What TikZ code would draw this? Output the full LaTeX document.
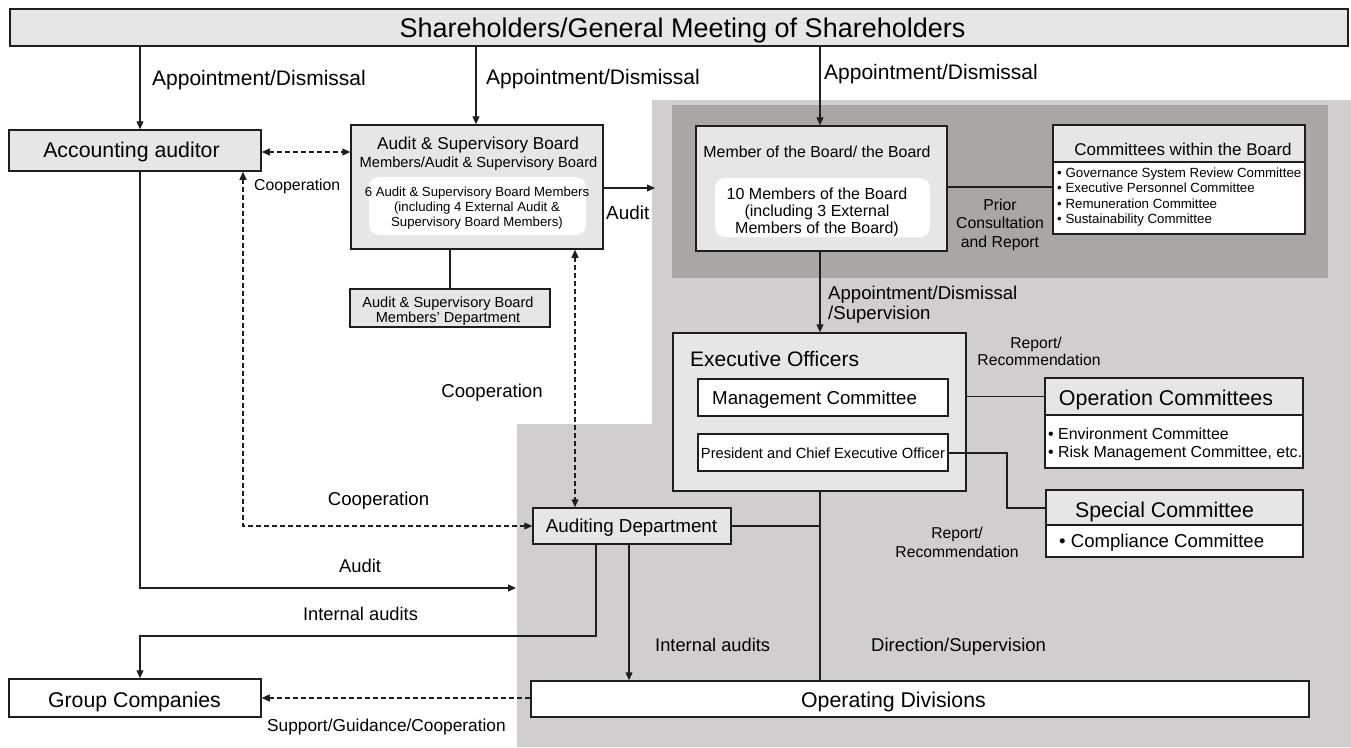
\documentclass[tikz,border=0pt]{standalone}
\usepackage{fontspec}
\setmainfont{Liberation Sans}
\usetikzlibrary{arrows.meta}
\definecolor{boxgray}{HTML}{E6E6E6}
\definecolor{reglight}{HTML}{D0CECF}
\definecolor{regdark}{HTML}{AAA6A5}
\definecolor{edge}{HTML}{1E1E1E}
\newcommand\fs[1]{\fontsize{#1}{#1}\selectfont}
\begin{document}
\begin{tikzpicture}[x=1pt,y=-1pt,
  gbox/.style={draw=edge, line width=1.5pt, fill=boxgray, inner sep=0pt},
  wbox/.style={draw=edge, line width=1.5pt, fill=white, inner sep=0pt},
  wround/.style={fill=white, rounded corners=10pt, inner sep=0pt},
  conn/.style={draw=edge, line width=1.2pt},
  arr/.style={conn, -{Triangle[length=8pt,width=7pt]}},
  darr/.style={conn, dash pattern=on 5pt off 3pt, {Triangle[length=8pt,width=7pt]}-{Triangle[length=8pt,width=7pt]}},
  dar/.style={conn, dash pattern=on 5pt off 3pt, -{Triangle[length=8pt,width=7pt]}},
  t/.style={inner sep=0pt, anchor=base, text=black},
  tl/.style={inner sep=0pt, anchor=base west, text=black}]
\useasboundingbox (0,0) rectangle (1351,747);
\fill[white] (0,0) rectangle (1351,747);
% background regions
\fill[reglight] (652,100) -- (1351,100) -- (1351,747) -- (517,747) -- (517,424) -- (652,424) -- cycle;
\fill[regdark] (672,105) rectangle (1328,278);
% column / level coordinates
\coordinate (xA) at (140,0);
\coordinate (xB) at (476,0);
\coordinate (xC) at (820,0);
\coordinate (xD) at (243,0);
\coordinate (xE) at (575,0);
\coordinate (xF) at (450,0);
\coordinate (xG) at (596,0);
\coordinate (xH) at (629,0);
\coordinate (xI) at (1007,0);
\coordinate (yAA) at (0,152);
\coordinate (yBC) at (0,187);
\coordinate (yIA) at (0,636);
\coordinate (auditTip) at (655,188);
\coordinate (auditEnd) at (516,588);
% boxes
\node[gbox, minimum width=1338, minimum height=37] (share) at (679,27.5) {};
\node[gbox, minimum width=252, minimum height=41] (aa) at (135,150.5) {};
\node[gbox, minimum width=252, minimum height=124] (asb) at (477,187) {};
\node[wround, minimum width=217, minimum height=58] (asbIn) at (477.5,206) {};
\node[gbox, minimum width=200, minimum height=38] (asbd) at (450,308) {};
\node[gbox, minimum width=251, minimum height=125] (board) at (821.5,188.5) {};
\node[wround, minimum width=215, minimum height=59] (boardIn) at (822.5,207.5) {};
\node[gbox, minimum width=252, minimum height=37] (cwbH) at (1179,143.5) {};
\node[wbox, minimum width=252, minimum height=72] (cwbL) at (1179,198) {};
\node[gbox, minimum width=293, minimum height=158] (eo) at (819.5,412) {};
\node[wbox, minimum width=250, minimum height=37] (mc) at (823,397.5) {};
\node[wbox, minimum width=250, minimum height=37] (pres) at (823,452.5) {};
\node[gbox, minimum width=258, minimum height=37] (ocH) at (1174,396.5) {};
\node[wbox, minimum width=258, minimum height=53] (ocL) at (1174,441.5) {};
\node[gbox, minimum width=257, minimum height=35] (scH) at (1174.5,507.5) {};
\node[wbox, minimum width=257, minimum height=32] (scL) at (1174.5,541) {};
\node[gbox, minimum width=198, minimum height=36] (aud) at (632,526) {};
\node[wbox, minimum width=778, minimum height=36] (od) at (920,699) {};
\node[wbox, minimum width=252, minimum height=38] (gc) at (135,698) {};
% connectors
\draw[arr] (xA |- share.south) -- (xA |- aa.north);
\draw[arr] (xB |- share.south) -- (xB |- asb.north);
\draw[arr] (xC |- share.south) -- (xC |- board.north);
\draw[darr] (aa.east |- yAA) -- (asb.west |- yAA);
\draw[darr] (xD |- aa.south) -- (xD |- aud.west) -- (aud.west);
\draw[arr] (asb.east |- auditTip) -- (auditTip);
\draw[conn] (xF |- asb.south) -- (xF |- asbd.north);
\draw[darr] (xE |- asb.south) -- (xE |- aud.north);
\draw[arr] (xA |- aa.south) -- (xA |- auditEnd) -- (auditEnd);
\draw[conn] (board.east |- yBC) -- (cwbL.west |- yBC);
\draw[arr] (xC |- board.south) -- (xC |- eo.north);
\draw[conn] (eo.east |- ocH.west) -- (ocH.west);
\draw[conn, line width=2pt] (pres.east) -- (xI |- pres.east) -- (xI |- scH.west) -- (scH.west);
\draw[conn] (aud.east) -- (xC |- aud.east);
\draw[conn] (xC |- eo.south) -- (xC |- od.north);
\draw[arr] (xG |- aud.south) -- (xG |- yIA) -- (xA |- yIA) -- (xA |- gc.north);
\draw[arr] (xH |- aud.south) -- (xH |- od.north);
\draw[dar] (od.west |- gc.east) -- (gc.east);
% texts
\node[t, font=\fs{27}] (shareT) at (682.5,37.7) {Shareholders/General Meeting of Shareholders};
\node[tl, font=\fs{21}] (ad1) at (152,85) {Appointment/Dismissal};
\node[tl, font=\fs{21}] (ad2) at (486,84) {Appointment/Dismissal};
\node[tl, font=\fs{21}] (ad3) at (824,79.5) {Appointment/Dismissal};
\node[t, font=\fs{21.3}] (aaT) at (131.5,157.7) {Accounting auditor};
\node[tl, font=\fs{15.8}] (coop1) at (254,190.7) {Cooperation};
\node[t, font=\fs{17.2}] (asbT1) at (478,149.2) {Audit \& Supervisory Board};
\node[t, font=\fs{14.7}] (asbT2) at (478.5,167.3) {Members/Audit \& Supervisory Board};
\node[t, font=\fs{13.2}] (asbI1) at (477,196.8) {6 Audit \& Supervisory Board Members};
\node[t, font=\fs{13.2}] (asbI2) at (477,211.8) {(including 4 External Audit \&};
\node[t, font=\fs{13.2}] (asbI3) at (477,226.8) {Supervisory Board Members)};
\node[t, font=\fs{14.6}] (asbd1) at (448,307.3) {Audit \& Supervisory Board};
\node[t, font=\fs{14.6}] (asbd2) at (448,322.3) {Members’ Department};
\node[tl, font=\fs{18.9}] (auditR) at (606,219.8) {Audit};
\node[t, font=\fs{15.9}] (boardT) at (817,157.7) {Member of the Board/ the Board};
\node[t, font=\fs{16}] (boardI1) at (817,199.8) {10 Members of the Board};
\node[t, font=\fs{16}] (boardI2) at (817,216.8) {(including 3 External};
\node[t, font=\fs{16}] (boardI3) at (817,233.8) {Members of the Board)};
\node[t, font=\fs{15.8}] (pc1) at (1000,210.7) {Prior};
\node[t, font=\fs{15.8}] (pc2) at (1000,228.7) {Consultation};
\node[t, font=\fs{15.8}] (pc3) at (1000,247.7) {and Report};
\node[t, font=\fs{17}] (cwbT) at (1183,155) {Committees within the Board};
\node[tl, font=\fs{13.3}] (cwb1) at (1057,177) {• Governance System Review Committee};
\node[tl, font=\fs{13.3}] (cwb2) at (1057,192.5) {• Executive Personnel Committee};
\node[tl, font=\fs{13.3}] (cwb3) at (1057,208) {• Remuneration Committee};
\node[tl, font=\fs{13.3}] (cwb4) at (1057,223) {• Sustainability Committee};
\node[tl, font=\fs{18.6}] (ads1) at (828,299.7) {Appointment/Dismissal};
\node[tl, font=\fs{18.6}] (ads2) at (828,319.7) {/Supervision};
\node[tl, font=\fs{21}] (eoT) at (690,366.6) {Executive Officers};
\node[tl, font=\fs{18.7}] (mcT) at (712,404.7) {Management Committee};
\node[t, font=\fs{14.7}] (presT) at (823,458.3) {President and Chief Executive Officer};
\node[t, font=\fs{15.7}] (rr1a) at (1036,348.7) {Report/};
\node[t, font=\fs{15.7}] (rr1b) at (1039,365.7) {Recommendation};
\node[t, font=\fs{21.4}] (ocT) at (1166,405.7) {Operation Committees};
\node[tl, font=\fs{15.9}] (oc1) at (1048,439.7) {• Environment Committee};
\node[tl, font=\fs{15.9}] (oc2) at (1048,457.7) {• Risk Management Committee, etc.};
\node[t, font=\fs{21.3}] (scT) at (1164.5,517.7) {Special Committee};
\node[tl, font=\fs{18.6}] (sc1) at (1059,547.7) {• Compliance Committee};
\node[t, font=\fs{15.7}] (rr2a) at (957,538.7) {Report/};
\node[t, font=\fs{15.7}] (rr2b) at (957,557.7) {Recommendation};
\node[t, font=\fs{18.8}] (audT) at (631.5,532.8) {Auditing Department};
\node[t, font=\fs{18.6}] (coop2) at (492,397.7) {Cooperation};
\node[t, font=\fs{18.6}] (coop3) at (378.5,505.7) {Cooperation};
\node[t, font=\fs{18.4}] (auditL) at (360,572.6) {Audit};
\node[t, font=\fs{18.3}] (ia1) at (360.5,620.6) {Internal audits};
\node[tl, font=\fs{18.3}] (ia2) at (655,651.6) {Internal audits};
\node[tl, font=\fs{18.5}] (dsT) at (871,651.7) {Direction/Supervision};
\node[t, font=\fs{21.3}] (odT) at (893.5,707.7) {Operating Divisions};
\node[t, font=\fs{21.3}] (gcT) at (134.5,707.7) {Group Companies};
\node[tl, font=\fs{17.3}] (sgc) at (267,731.2) {Support/Guidance/Cooperation};
\end{tikzpicture}
\end{document}
